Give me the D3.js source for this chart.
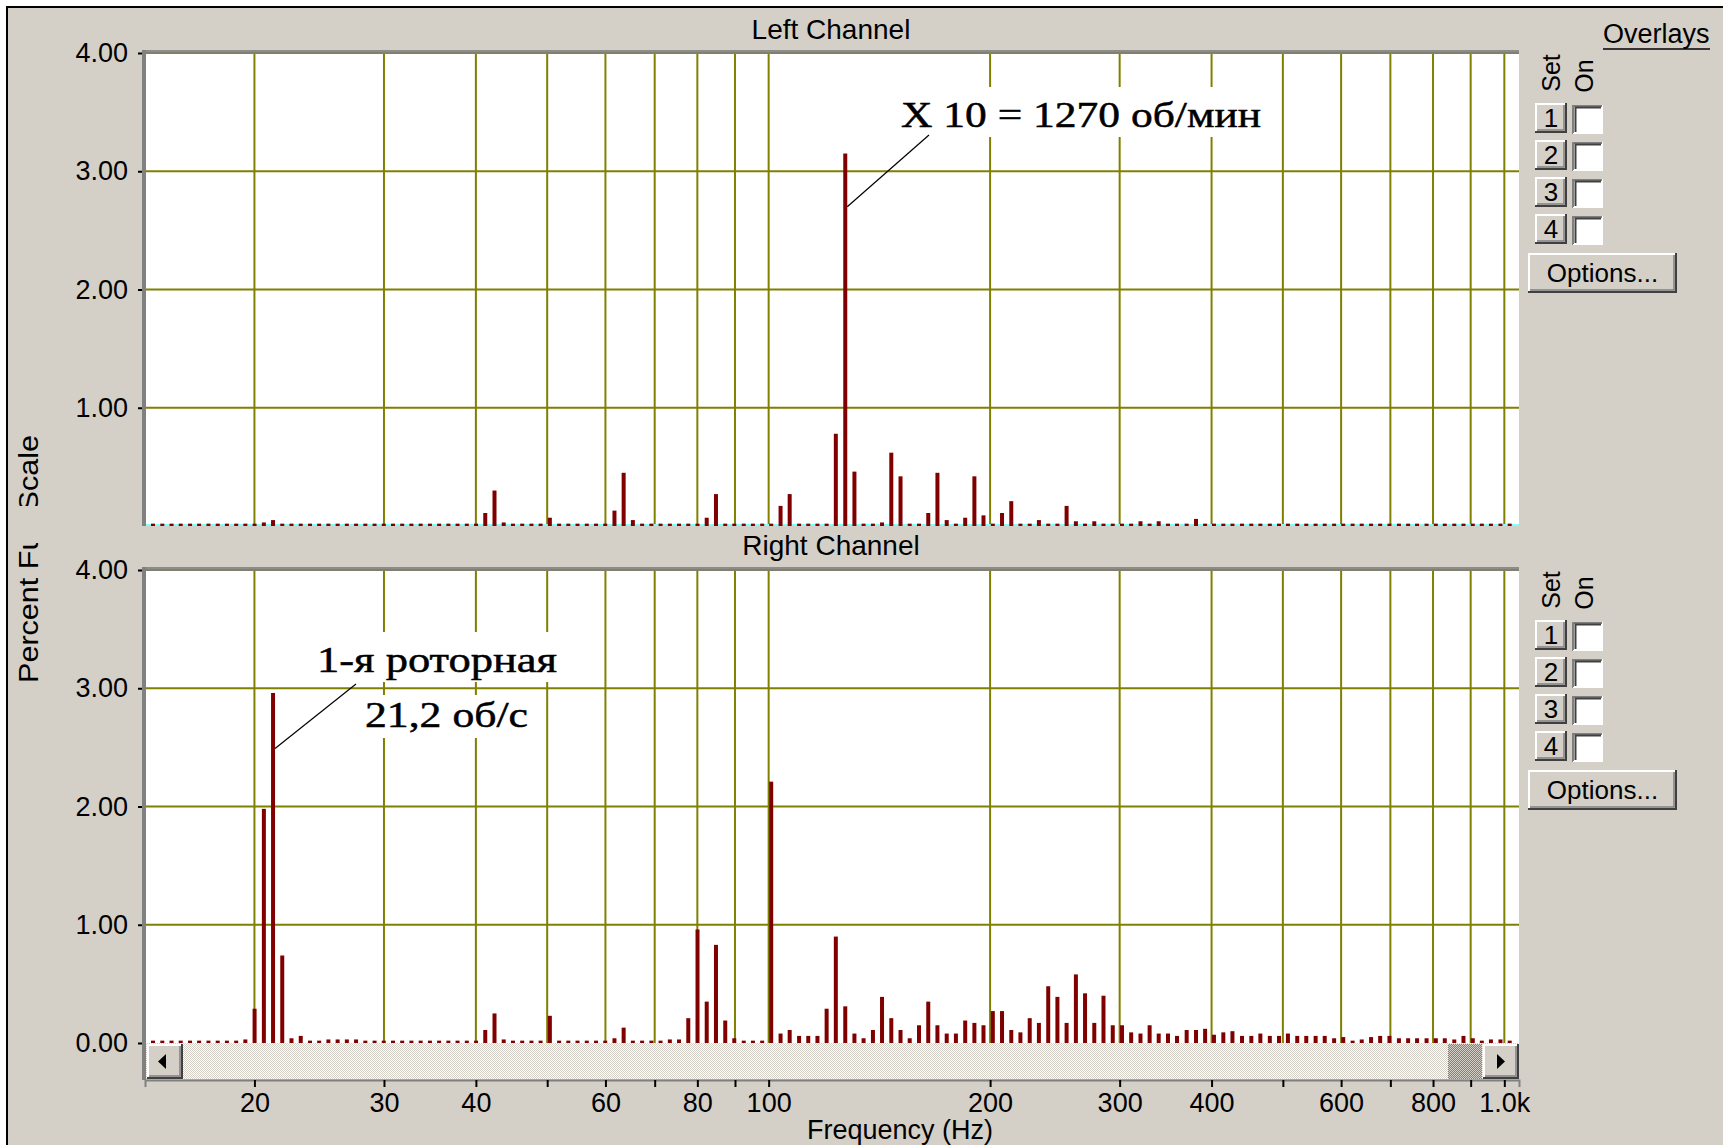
<!DOCTYPE html>
<html>
<head>
<meta charset="utf-8">
<script src="https://cdn.jsdelivr.net/npm/d3@7"></script>
<style>
  body { margin: 0; background: #fff; }
  svg text { font-family: "Liberation Sans", Arial, sans-serif; fill: #000; }
  .serif { font-family: "Liberation Serif", "Times New Roman", serif; stroke: #000; stroke-width: 0.5px; }
</style>
</head>
<body>
<svg id="chart"></svg>
<script>
// 1/24-octave analyser bins (Hz)
var binHz = [
  14.56, 14.99, 15.43, 15.88, 16.35, 16.82, 17.32, 17.83, 18.35, 18.89, 19.44, 20.01, 20.60,
  21.20, 21.82, 22.46, 23.12, 23.80, 24.49, 25.21, 25.95, 26.71, 27.49, 28.30, 29.13,
  29.98, 30.86, 31.76, 32.69, 33.65, 34.64, 35.65, 36.70, 37.77, 38.88, 40.02, 41.19,
  42.40, 43.64, 44.92, 46.24, 47.60, 48.98, 50.42, 51.90, 53.42, 54.98, 56.60, 58.26,
  59.96, 61.72, 63.52, 65.38, 67.30, 69.28, 71.30, 73.40, 75.54, 77.76, 80.04, 82.38,
  84.8, 87.3, 89.8, 92.5, 95.2, 98.0, 100.8, 103.8, 106.8, 110.0, 113.2, 116.5,
  119.9, 123.4, 127.1, 130.8, 134.6, 138.6, 142.6, 146.8, 151.1, 155.5, 160.1, 164.8,
  169.6, 174.6, 179.7, 185.0, 190.4, 195.9, 201.7, 207.6, 213.7, 219.9, 226.4, 233.0,
  239.9, 246.9, 254.1, 261.6, 269.2, 277.1, 285.2, 293.6, 302.2, 311.0, 320.2, 329.5,
  339, 349, 359, 370, 381, 392, 403, 415, 427, 440, 453, 466,
  480, 494, 508, 523, 538, 554, 570, 587, 604, 622, 640, 659,
  678, 698, 719, 740, 761, 784, 807, 830, 855, 880, 906, 932, 959, 988, 1017
];

// Left channel, percent full scale
var leftPct = [
  0.02, 0.02, 0.02, 0.02, 0.02, 0.02, 0.02, 0.02, 0.02, 0.02, 0.02, 0.02, 0.03,
  0.05, 0.02, 0.02, 0.02, 0.02, 0.02, 0.02, 0.02, 0.02, 0.02, 0.02, 0.02,
  0.02, 0.02, 0.02, 0.02, 0.02, 0.02, 0.02, 0.02, 0.02, 0.02, 0.02, 0.11,
  0.30, 0.03, 0.02, 0.02, 0.02, 0.02, 0.07, 0.02, 0.02, 0.02, 0.02, 0.02,
  0.02, 0.13, 0.45, 0.05, 0.02, 0.02, 0.02, 0.02, 0.02, 0.02, 0.02, 0.07,
  0.27, 0.02, 0.02, 0.02, 0.02, 0.02, 0.02, 0.17, 0.27, 0.02, 0.02, 0.02,
  0.02, 0.78, 3.15, 0.46, 0.02, 0.02, 0.03, 0.62, 0.42, 0.02, 0.02, 0.11,
  0.45, 0.05, 0.02, 0.07, 0.42, 0.09, 0.02, 0.11, 0.21, 0.02, 0.02, 0.05,
  0.02, 0.02, 0.17, 0.04, 0.02, 0.04, 0.02, 0.02, 0.02, 0.02, 0.04, 0.02,
  0.04, 0.02, 0.02, 0.02, 0.06, 0.02, 0.02, 0.02, 0.02, 0.02, 0.02, 0.02,
  0.02, 0.02, 0.02, 0.02, 0.02, 0.02, 0.02, 0.02, 0.02, 0.02, 0.02, 0.02,
  0.02, 0.02, 0.02, 0.02, 0.02, 0.02, 0.02, 0.02, 0.02, 0.02, 0.02, 0.02, 0.02, 0.02, 0.02
];

// Right channel, percent full scale
var rightPct = [
  0.02, 0.02, 0.02, 0.02, 0.02, 0.02, 0.02, 0.02, 0.02, 0.02, 0.03, 0.29, 1.98,
  2.96, 0.74, 0.04, 0.06, 0.02, 0.02, 0.03, 0.03, 0.03, 0.03, 0.02, 0.02,
  0.02, 0.02, 0.02, 0.02, 0.02, 0.02, 0.02, 0.02, 0.02, 0.02, 0.02, 0.11,
  0.25, 0.03, 0.02, 0.02, 0.02, 0.02, 0.23, 0.02, 0.02, 0.02, 0.02, 0.02,
  0.02, 0.04, 0.13, 0.02, 0.02, 0.02, 0.02, 0.03, 0.03, 0.21, 0.96, 0.35,
  0.83, 0.19, 0.04, 0.02, 0.02, 0.02, 2.21, 0.08, 0.11, 0.06, 0.06, 0.06,
  0.29, 0.90, 0.31, 0.08, 0.04, 0.11, 0.39, 0.21, 0.11, 0.04, 0.15, 0.35,
  0.15, 0.08, 0.08, 0.19, 0.17, 0.15, 0.27, 0.27, 0.11, 0.09, 0.21, 0.17,
  0.48, 0.39, 0.17, 0.58, 0.42, 0.17, 0.40, 0.15, 0.15, 0.09, 0.08, 0.15,
  0.08, 0.08, 0.06, 0.11, 0.11, 0.12, 0.07, 0.09, 0.10, 0.06, 0.06, 0.08,
  0.06, 0.06, 0.08, 0.06, 0.06, 0.06, 0.06, 0.04, 0.05, 0.02, 0.03, 0.05,
  0.06, 0.06, 0.04, 0.04, 0.04, 0.04, 0.04, 0.04, 0.03, 0.06, 0.04, 0.02, 0.03, 0.03, 0.02
];

var xTicks = [20, 30, 40, 50, 60, 70, 80, 90, 100, 200, 300, 400, 500, 600, 700, 800, 900, 1000];
var xTickText = {20: "20", 30: "30", 40: "40", 60: "60", 80: "80", 100: "100",
                 200: "200", 300: "300", 400: "400", 600: "600", 800: "800", 1000: "1.0k"};
var yGrid = [1, 2, 3, 4];

var svgW = 1723, svgH = 1145;
var plotL = 145, plotR = 1519;
var FACE = "#d4d0c8", GRID = "#808000", BAR = "#800000";

var svg = d3.select("#chart").attr("width", svgW).attr("height", svgH);
var defs = svg.append("defs");

// window background + frame
svg.append("rect").attr("width", svgW).attr("height", svgH).attr("fill", "#fff");
svg.append("rect").attr("x", 8).attr("y", 8).attr("width", svgW - 8).attr("height", svgH - 8).attr("fill", FACE);
svg.append("path").attr("d", "M7," + svgH + "V7H" + svgW)
    .attr("stroke", "#000").attr("stroke-width", 2).attr("fill", "none");

// dither patterns for the scrollbar
function dither(id, a, b) {
  var p = defs.append("pattern").attr("id", id).attr("width", 2).attr("height", 2)
      .attr("patternUnits", "userSpaceOnUse");
  p.append("rect").attr("width", 2).attr("height", 2).attr("fill", a);
  p.append("rect").attr("width", 1).attr("height", 1).attr("fill", b);
  p.append("rect").attr("x", 1).attr("y", 1).attr("width", 1).attr("height", 1).attr("fill", b);
}
dither("light", "#fff", FACE);
dither("dark", "#808080", FACE);

var x = d3.scaleLog().domain([14.2, 1047]).range([plotL, plotR]);

// 3d windows button
function button(parent, bx, by, bw, bh, label, fs) {
  var b = parent.append("g");
  b.append("rect").attr("x", bx).attr("y", by).attr("width", bw).attr("height", bh).attr("fill", FACE);
  b.append("path").attr("d", `M${bx + 1},${by + bh - 1}V${by + 1}H${bx + bw - 1}`)
      .attr("stroke", "#fff").attr("stroke-width", 2).attr("fill", "none");
  b.append("path").attr("d", `M${bx},${by + bh - 1}H${bx + bw - 1}V${by}`)
      .attr("stroke", "#404040").attr("stroke-width", 2).attr("fill", "none");
  b.append("path").attr("d", `M${bx + 2},${by + bh - 3}H${bx + bw - 3}V${by + 2}`)
      .attr("stroke", "#808080").attr("stroke-width", 1.5).attr("fill", "none");
  if (label) {
    b.append("text").attr("x", bx + bw / 2).attr("y", by + bh / 2 + fs * 0.36)
        .attr("text-anchor", "middle").attr("font-size", fs).text(label);
  }
  return b;
}

function checkbox(parent, bx, by, bw, bh) {
  parent.append("rect").attr("x", bx).attr("y", by).attr("width", bw).attr("height", bh).attr("fill", "#fff");
  parent.append("path").attr("d", `M${bx},${by + bh}V${by + 1}H${bx + bw}`)
      .attr("stroke", "#808080").attr("stroke-width", 2).attr("fill", "none");
  parent.append("path").attr("d", `M${bx + 2.5},${by + bh - 2}V${by + 2.5}H${bx + bw - 2}`)
      .attr("stroke", "#404040").attr("stroke-width", 2).attr("fill", "none");
  parent.append("path").attr("d", `M${bx},${by + bh - 0.5}H${bx + bw - 0.5}V${by}`)
      .attr("stroke", "#fff").attr("stroke-width", 1).attr("fill", "none");
}

var panels = [
  {title: "Left Channel", titleY: 39, top: 53, bottom: 526, values: leftPct,
   ticks: [1, 2, 3, 4], baseLine: "#80ffff", ctrlDy: 0, borderTo: 526},
  {title: "Right Channel", titleY: 555, top: 570, bottom: 1043, values: rightPct,
   ticks: [0, 1, 2, 3, 4], baseLine: null, ctrlDy: 517, borderTo: 1080}
];

panels.forEach(function(p) {
  var y = d3.scaleLinear().domain([0, 4]).range([p.bottom, p.top]);
  p.y = y;
  var g = svg.append("g");

  g.append("rect").attr("x", plotL).attr("y", p.top).attr("width", plotR - plotL)
      .attr("height", p.bottom - p.top).attr("fill", "#fff");

  // grid
  g.selectAll(".vgrid").data(xTicks).join("line").attr("class", "vgrid")
      .attr("x1", d => x(d)).attr("x2", d => x(d))
      .attr("y1", p.top).attr("y2", p.bottom)
      .attr("stroke", GRID).attr("stroke-width", 2);
  g.selectAll(".hgrid").data(yGrid).join("line").attr("class", "hgrid")
      .attr("x1", plotL).attr("x2", plotR)
      .attr("y1", d => y(d)).attr("y2", d => y(d))
      .attr("stroke", GRID).attr("stroke-width", 2);

  // frame edges
  g.append("rect").attr("x", plotL - 3).attr("y", p.top - 3).attr("width", plotR - plotL + 3)
      .attr("height", 4).attr("fill", "#808080").attr("opacity", 0.85);
  g.append("rect").attr("x", plotL - 3).attr("y", p.top - 3).attr("width", 4)
      .attr("height", p.borderTo - p.top + 3).attr("fill", "#808080");

  if (p.baseLine) {
    g.append("line").attr("x1", plotL + 1).attr("x2", plotR).attr("y1", y(0) - 1).attr("y2", y(0) - 1)
        .attr("stroke", p.baseLine).attr("stroke-width", 2);
  }

  // spectrum bars
  g.selectAll(".bar").data(binHz.map((f, i) => ({f: f, v: p.values[i]})))
    .join("rect").attr("class", "bar")
      .attr("x", d => x(d.f) - 2)
      .attr("width", 4)
      .attr("y", d => y(d.v))
      .attr("height", d => y(0) - y(d.v))
      .attr("fill", BAR);

  // y axis
  var yAxis = g.append("g").attr("transform", `translate(${plotL - 3},0)`)
      .call(d3.axisLeft(y).tickValues(p.ticks).tickSize(4).tickPadding(10).tickFormat(d3.format(".2f")));
  yAxis.select(".domain").remove();
  yAxis.attr("font-size", 27).attr("font-family", "Liberation Sans, Arial, sans-serif");
  yAxis.selectAll("line").attr("stroke", "#000").attr("stroke-width", 2);

  // channel title
  svg.append("text").attr("x", 831).attr("y", p.titleY).attr("text-anchor", "middle")
      .attr("font-size", 28).text(p.title);

  // overlay controls
  var c = svg.append("g").attr("transform", `translate(0,${p.ctrlDy})`);
  c.append("text").attr("transform", "translate(1560,73) rotate(-90)").attr("text-anchor", "middle")
      .attr("font-size", 25).text("Set");
  c.append("text").attr("transform", "translate(1593,76) rotate(-90)").attr("text-anchor", "middle")
      .attr("font-size", 25).text("On");
  [1, 2, 3, 4].forEach(function(n, i) {
    button(c, 1535, 103 + 37 * i, 32, 30, String(n), 26);
    checkbox(c, 1573, 105 + 37 * i, 30, 29);
  });
  button(c, 1528, 253, 149, 40, "Options...", 26);
});

// "Overlays" header
svg.append("text").attr("x", 1603).attr("y", 43).attr("font-size", 27).text("Overlays");
svg.append("line").attr("x1", 1603).attr("x2", 1710).attr("y1", 49).attr("y2", 49)
    .attr("stroke", "#000").attr("stroke-width", 1.5);

// scrollbar under the right channel
var sb = svg.append("g");
sb.append("rect").attr("x", plotL + 1).attr("y", 1043).attr("width", plotR - plotL - 1).attr("height", 36)
    .attr("fill", "url(#light)");
button(sb, 147, 1044, 36, 35, null);
sb.append("path").attr("d", "M158,1061.5L166,1054V1069Z").attr("fill", "#000");
sb.append("rect").attr("x", 1448).attr("y", 1044).attr("width", 34).attr("height", 35).attr("fill", "url(#dark)");
button(sb, 1483, 1044, 36, 35, null);
sb.append("path").attr("d", "M1505,1061.5L1497,1054V1069Z").attr("fill", "#000");

// x axis
var xAxis = svg.append("g").attr("transform", "translate(0,1080)")
    .call(d3.axisBottom(x).tickValues(xTicks).tickSize(7).tickPadding(6)
      .tickFormat(d => xTickText[d] || ""));
xAxis.select(".domain").attr("stroke", "#808080").attr("stroke-width", 2);
xAxis.attr("font-size", 27).attr("font-family", "Liberation Sans, Arial, sans-serif");
xAxis.selectAll("line").attr("stroke", "#000").attr("stroke-width", 2);

svg.append("text").attr("x", 900).attr("y", 1139).attr("text-anchor", "middle")
    .attr("font-size", 27).text("Frequency (Hz)");

// y label, partly hidden between the two panels
var clip = defs.append("clipPath").attr("id", "ylabClip");
clip.append("rect").attr("x", 0).attr("y", 0).attr("width", 80).attr("height", 506);
clip.append("rect").attr("x", 0).attr("y", 543).attr("width", 80).attr("height", 300);
svg.append("g").attr("clip-path", "url(#ylabClip)")
  .append("text").attr("transform", "translate(38,683) rotate(-90)")
    .attr("font-size", 27).attr("textLength", 248).attr("lengthAdjust", "spacingAndGlyphs")
    .text("Percent Full Scale");

// annotations
var notes = [
  {panel: 0, freq: 127.1, level: 2.70, from: [929, 135],
   box: [897, 87, 368, 50], lines: [{t: "X 10 = 1270 об/мин", x: 901, y: 127, w: 360}]},
  {panel: 1, freq: 21.2, level: 2.49, from: [356, 684],
   box: [313, 632, 247, 50], lines: [{t: "1-я роторная", x: 317, y: 672, w: 240}],
   box2: [362, 695, 170, 43], lines2: [{t: "21,2 об/с", x: 365, y: 727, w: 163}]}
];
notes.forEach(function(n) {
  var p = panels[n.panel];
  var g = svg.append("g");
  [n.box, n.box2].filter(Boolean).forEach(function(b) {
    g.append("rect").attr("x", b[0]).attr("y", b[1]).attr("width", b[2]).attr("height", b[3]).attr("fill", "#fff");
  });
  n.lines.concat(n.lines2 || []).forEach(function(l) {
    g.append("text").attr("class", "serif").attr("x", l.x).attr("y", l.y)
        .attr("font-size", 36).attr("textLength", l.w).attr("lengthAdjust", "spacingAndGlyphs")
        .text(l.t);
  });
  g.append("line").attr("x1", n.from[0]).attr("y1", n.from[1])
      .attr("x2", x(n.freq) + 2).attr("y2", p.y(n.level))
      .attr("stroke", "#000").attr("stroke-width", 1.2);
});
</script>
</body>
</html>
